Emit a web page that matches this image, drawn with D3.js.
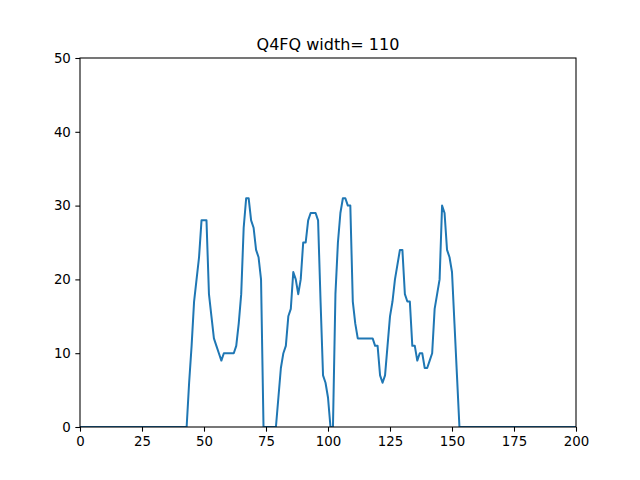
<!DOCTYPE html>
<html>
<head>
<meta charset="utf-8">
<script src="https://cdn.jsdelivr.net/npm/d3@7"></script>
<style>
  body { margin: 0; background: #fff; }
  svg { display: block; font-family: "DejaVu Sans", sans-serif; }
</style>
</head>
<body>
<div id="chart"></div>
<script>
// chart data
const chartTitle = "Q4FQ width= 110";
const xTicks = [0, 25, 50, 75, 100, 125, 150, 175, 200];
const yTicks = [0, 10, 20, 30, 40, 50];
// one value per x position (x = 0 .. 200)
const counts = [
    0, 0, 0, 0, 0, 0, 0, 0, 0, 0,
    0, 0, 0, 0, 0, 0, 0, 0, 0, 0,
    0, 0, 0, 0, 0, 0, 0, 0, 0, 0,
    0, 0, 0, 0, 0, 0, 0, 0, 0, 0,
    0, 0, 0, 0, 6, 11, 17, 20, 23, 28,
    28, 28, 18, 15, 12, 11, 10, 9, 10, 10,
    10, 10, 10, 11, 14, 18, 27, 31, 31, 28,
    27, 24, 23, 20, 0, 0, 0, 0, 0, 0,
    4, 8, 10, 11, 15, 16, 21, 20, 18, 20,
    25, 25, 28, 29, 29, 29, 28, 17, 7, 6,
    4, 0, 0, 18, 25, 29, 31, 31, 30, 30,
    17, 14, 12, 12, 12, 12, 12, 12, 12, 11,
    11, 7, 6, 7, 11, 15, 17, 20, 22, 24,
    24, 18, 17, 17, 11, 11, 9, 10, 10, 8,
    8, 9, 10, 16, 18, 20, 30, 29, 24, 23,
    21, 14, 7, 0, 0, 0, 0, 0, 0, 0,
    0, 0, 0, 0, 0, 0, 0, 0, 0, 0,
    0, 0, 0, 0, 0, 0, 0, 0, 0, 0,
    0, 0, 0, 0, 0, 0, 0, 0, 0, 0,
    0, 0, 0, 0, 0, 0, 0, 0, 0, 0,
    0
];

function createLineChart(containerId) {
    const margin = { top: 58, right: 64, bottom: 53, left: 80 };
    const width = 640 - margin.left - margin.right;
    const height = 480 - margin.top - margin.bottom;

    const svg = d3.select(`#${containerId}`).append("svg")
        .attr("width", 640)
        .attr("height", 480)
        .append("g")
        .attr("transform", `translate(${margin.left},${margin.top})`);

    const xScale = d3.scaleLinear().domain([0, 200]).range([0, width]);
    const yScale = d3.scaleLinear().domain([0, 50]).range([height, 0]);

    const xAxis = d3.axisBottom(xScale).tickValues(xTicks).tickSize(4.67).tickPadding(4.5).tickFormat(d3.format("d"));
    const yAxis = d3.axisLeft(yScale).tickValues(yTicks).tickSize(4.67).tickPadding(4.5).tickFormat(d3.format("d"));

    const gx = svg.append("g").attr("transform", `translate(0,${height})`).call(xAxis);
    const gy = svg.append("g").call(yAxis);
    [gx, gy].forEach(g => {
        g.select(".domain").remove();
        g.selectAll(".tick line").attr("stroke", "#000").attr("stroke-width", 1.07);
        g.selectAll(".tick text").attr("fill", "#000").style("font-size", "13.33px")
            .style("font-family", "'DejaVu Sans', sans-serif");
    });

    // the curve, clipped to the axes box like matplotlib does
    svg.append("clipPath").attr("id", "plot-clip")
        .append("rect").attr("width", width).attr("height", height);

    const line = d3.line().x((d, i) => xScale(i)).y(d => yScale(d));
    svg.append("path").datum(counts)
        .attr("clip-path", "url(#plot-clip)")
        .attr("fill", "none").attr("stroke", "#1f77b4").attr("stroke-width", 2)
        .attr("stroke-linejoin", "round").attr("stroke-linecap", "square")
        .attr("d", line);

    // axes frame
    svg.append("rect").attr("width", width).attr("height", height)
        .attr("fill", "none").attr("stroke", "#000").attr("stroke-width", 1.07);

    svg.append("text")
        .attr("x", width / 2).attr("y", -8)
        .attr("text-anchor", "middle")
        .style("font-size", "16px")
        .text(chartTitle);
}

createLineChart("chart");
</script>
</body>
</html>
